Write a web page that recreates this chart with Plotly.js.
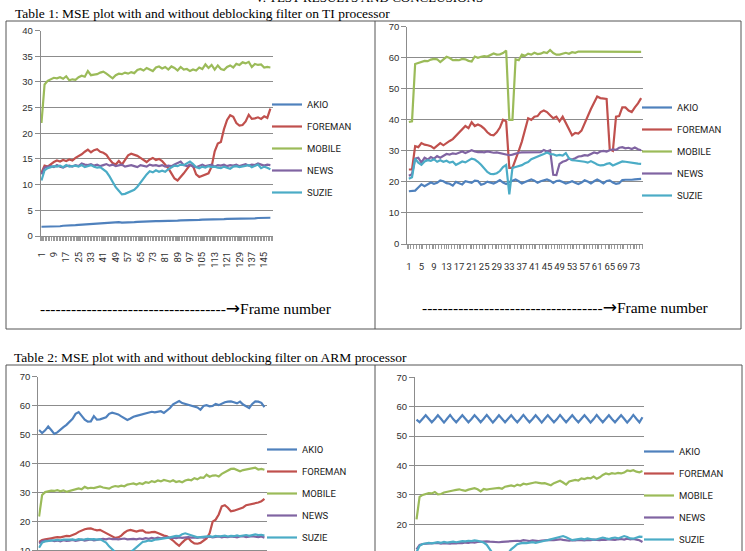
<!DOCTYPE html>
<html><head><meta charset="utf-8">
<script src="https://cdn.plot.ly/plotly-3.0.1.min.js"></script>
<style>html,body{margin:0;padding:0;overflow:hidden;background:#fff}#chart{width:745px;height:640px}</style>
</head><body><div id="chart"></div>
<script>
// ---------- DATA ----------
const seriesNames = ['AKIO', 'FOREMAN', 'MOBILE', 'NEWS', 'SUZIE'];
const seriesColors = ['#4F81BD', '#C0504D', '#9BBB59', '#8064A2', '#4BACC6'];

// frame numbers (category axis)
const framesLong = [1,3,5,7,9,11,13,15,17,19,21,23,25,27,29,31,33,35,37,39,41,43,45,47,49,51,53,55,57,59,61,63,65,67,69,71,73,75,77,79,81,83,85,87,89,91,93,95,97,99,101,103,105,107,109,111,113,115,117,119,121,123,125,127,129,131,133,135,137,139,141,143,145,147,149];
const framesShort = [1,2,3,4,5,6,7,8,9,10,11,12,13,14,15,16,17,18,19,20,21,22,23,24,25,26,27,28,29,30,31,32,33,34,35,36,37,38,39,40,41,42,43,44,45,46,47,48,49,50,51,52,53,54,55,56,57,58,59,60,61,62,63,64,65,66,67,68,69,70,71,72,73,74,75];
const tickLabelsLong = [1,9,17,25,33,41,49,57,65,73,81,89,97,105,113,121,129,137,145];
const tickLabelsShort = [1,5,9,13,17,21,25,29,33,37,41,45,49,53,57,61,65,69,73];
const yTicksTI1 = [0,5,10,15,20,25,30,35,40];
const yTicks70 = [0,10,20,30,40,50,60,70];

// Table 1, left: TI processor (150 frames)
const ti1Akio = [1.8,1.8,1.8,1.8,1.85,1.9,1.9,2.0,2.0,2.05,2.1,2.1,2.15,2.2,2.2,2.3,2.35,2.4,2.4,2.45,2.5,2.5,2.5,2.55,2.6,2.7,2.6,2.6,2.65,2.7,2.7,2.75,2.8,2.8,2.8,2.85,2.9,2.9,2.9,2.9,2.95,2.95,3.0,3.0,3.0,3.05,3.05,3.1,3.1,3.1,3.15,3.15,3.2,3.2,3.2,3.2,3.25,3.3,3.3,3.3,3.35,3.35,3.35,3.4,3.4,3.4,3.4,3.45,3.45,3.45,3.5,3.5,3.5,3.55,3.55];
const ti1Foreman = [12.3,13.7,13.5,14.0,14.4,14.7,14.5,14.8,14.6,14.9,14.7,15.2,15.5,15.9,16.4,16.8,16.3,16.7,16.9,16.4,16.2,15.8,14.9,14.2,13.9,14.6,13.9,14.8,15.7,16.0,15.8,15.6,15.2,14.8,14.4,14.9,15.2,14.8,15.0,14.6,13.9,13.2,12.2,11.2,10.8,11.4,12.2,13.0,13.8,13.6,12.0,11.5,11.7,11.9,12.2,13.5,16.5,18.0,18.3,20.8,22.6,23.5,23.2,22.0,21.5,21.6,22.3,23.6,22.8,22.9,23.1,22.8,23.3,23.0,24.8];
const ti1Mobile = [22,29.5,30.2,30.5,30.8,30.7,30.9,30.6,31.1,30.3,30.5,30.4,30.9,31.2,31.0,32.1,31.3,31.4,31.5,31.8,32.0,31.6,31.2,30.7,31.3,31.6,31.5,31.8,31.6,31.9,31.7,32.3,32.5,32.2,32.7,32.4,32.1,32.8,33.0,32.6,32.9,32.4,33.0,32.7,32.2,32.9,32.4,32.5,32.1,32.4,32.2,32.8,32.5,33.4,32.7,33.3,32.4,33.2,32.5,32.3,32.9,33.2,32.8,33.5,33.3,33.8,33.6,33.9,32.9,33.5,33.3,33.4,32.8,32.9,32.8];
const ti1News = [12.0,13.3,13.5,13.6,13.4,13.8,13.5,13.3,13.6,13.7,13.5,13.8,13.6,14.1,13.9,13.8,14.0,13.7,13.9,13.6,13.8,14.0,13.7,13.9,13.6,13.8,13.9,13.5,13.7,13.8,13.6,13.4,13.8,13.6,13.5,13.9,13.7,13.8,13.6,13.8,13.5,13.7,13.6,13.9,14.2,14.5,13.8,13.6,13.9,13.5,13.4,13.7,13.9,13.6,13.8,13.9,13.5,13.8,13.7,13.9,13.6,13.8,13.7,13.9,13.6,13.8,14.0,13.7,13.9,13.8,14.1,13.9,13.7,13.9,13.8];
const ti1Suzie = [10.8,12.8,13.2,13.4,13.6,13.5,13.7,13.4,13.8,13.5,13.6,13.7,13.5,13.8,13.4,13.6,13.8,13.5,13.3,13.4,12.9,12.5,11.6,10.5,9.5,8.8,8.1,8.2,8.5,8.7,9.0,9.6,10.4,11.3,12.0,12.6,12.4,12.8,12.5,12.7,12.5,13.0,13.4,13.7,13.6,13.9,13.8,14.1,14.5,14.0,13.4,13.2,13.5,13.3,13.6,13.4,13.5,13.3,13.2,13.5,13.3,13.1,13.5,13.6,13.4,13.5,13.7,13.8,13.4,13.6,13.9,13.2,13.5,13.3,13.0];

// Table 1, right: TI processor (75 frames)
const ti2Akio = [17,17,17.2,18.2,19.2,18.6,19.2,19.8,19.4,19.7,20.5,20.2,19.6,19.4,18.8,20,19.6,19.2,20.2,20,19.7,20.4,20.3,19.1,19.4,20.1,19.8,19.5,20,20.6,19.8,19.3,20,20.3,20.8,20.2,19.5,20,20.5,20.8,20.4,19.7,20.2,20.6,20.8,20.4,19.7,20.3,20.4,20,19.5,19.8,20.2,19.7,19.3,19.8,20.5,20.1,19.5,20.2,20.8,20.2,19.5,20.3,20.5,19.8,19.4,19.6,20.6,20.7,20.6,20.7,20.8,20.8,21];
const ti2Foreman = [24,24,31.5,31.2,32.5,32,31.8,31.5,30.8,31.8,32.5,31.8,32.6,33.2,33.8,34.8,36,37,38,37.3,39.2,38,38.5,38,37.2,36,35.2,35,36,37.5,40,39.5,24.5,24.5,27,30,33,36.5,40.5,40,41,41.2,42.5,43,42.5,41.5,40.5,41,39.5,41,39,36.5,35,35.8,35.6,36.5,39,41.5,43.5,45.5,47.5,47,46.8,46.7,30.5,30,41,41.2,44,44,43,42.5,44,45.3,47];
const ti2Mobile = [39.3,39.5,58.0,58.3,58.6,59.0,58.9,59.4,59.6,59.5,58.6,59.6,60.3,59.9,59.2,59.3,59.2,59.6,59.5,59.0,58.8,60.4,60.0,60.3,60.5,60.4,60.8,61.4,61.0,61.1,61.5,62.3,40.0,40.0,59.5,59.2,61.0,60.6,61.3,61.0,61.6,61.2,61.3,61.8,61.5,62.5,61.5,61.0,61.0,61.3,61.6,61.3,61.8,61.6,62.0,62.0,61.9,62.0,62.0,62.0,62.0,61.9,62.0,62.0,62.0,62.0,62.0,61.9,62.0,62.0,62.0,62.0,61.9,62.0,61.9];
const ti2News = [22,22.5,27.5,27.8,26.2,27.8,27.2,28,27.5,28.3,27.8,28.5,29,28.8,29.2,29,29.5,29.8,29.3,29.8,30.2,29.8,29.6,29.7,29.5,29.8,29.6,29.4,29.5,29.3,29,28.8,28.6,28.8,29.2,29.4,29.5,29.5,29.6,29.5,29.6,29.7,29.6,30.3,29.8,30.2,22.3,22.2,25.8,26.5,26.8,27.5,27.2,27.6,28.2,28.3,28.6,28.5,29,29.5,29.2,29.8,30,29.8,30.2,30.5,30.3,31,31.2,30.8,31,30.6,31.1,30.5,30.2];
const ti2Suzie = [21,21.5,27.5,26.2,25.5,26.6,27,26.8,27.3,26.5,27,26.5,26.8,26.2,26.5,25.5,26,26.6,26.3,26.8,27.5,27.2,26.5,25.5,24.5,23.2,22.6,22.5,22.8,23.5,24.8,25.5,16,24.5,24.8,25,25.4,26,26.4,27.3,27.8,28.2,28.6,29,29.5,29,28.9,28.5,28.7,28.5,29.3,27.6,27,26.9,26.8,26.7,26.5,26.2,26.7,26.2,25.6,25.3,25.4,25.8,26,25.3,25.8,26.2,26.6,26.5,26.3,26.1,26,25.9,25.8];

// Table 2, left: ARM processor (150 frames)
const arm1Akio = [51.6,50.6,51.5,52.8,51.6,50.3,50.8,51.8,52.6,53.4,54.3,55.5,57.2,57.8,56.5,55.2,54.5,54.6,56.4,55.2,55.3,55.6,56,57.2,57.6,57.3,57.0,56.3,55.6,55.1,55.6,56.2,56.5,56.8,57.1,57.4,57.6,57.9,57.7,57.9,58.1,57.5,58.2,59.2,60.5,61.2,61.6,60.9,60.6,60.4,60.1,59.8,59.4,58.6,59.9,60.2,59.8,59.9,60.6,60.2,60.8,61.2,61.4,61.5,61.2,60.8,61.4,60.4,59.8,59.2,60.6,61.5,61.4,61.0,59.5];
const arm1Foreman = [13.0,13.7,13.9,14.2,14.3,14.5,14.7,14.6,14.9,15.1,15.0,15.4,15.8,16.5,17.0,17.4,17.6,17.7,17.3,17.0,17.2,16.6,16.0,15.4,14.9,14.4,14.6,15.2,16.2,16.9,17.2,16.9,16.6,16.9,17.0,16.3,16.2,16.4,16.5,16.1,15.6,15.2,15.0,14.3,13.5,12.5,11.7,12.8,13.8,14.4,13.2,12.5,12.4,12.7,13.5,14.2,16.0,20.0,20.7,22.5,25.3,25.7,24.8,23.6,23.8,24.1,24.5,24.9,25.7,25.9,26.2,26.4,26.6,27.0,27.9];
const arm1Mobile = [21.8,29.2,30.2,30.5,30.7,30.6,30.9,30.5,30.8,30.3,30.6,30.9,31.3,31.5,31.2,32.0,31.5,31.7,31.6,31.9,32.2,31.8,31.5,31.4,32.0,32.3,32.1,32.4,32.2,32.8,33.0,33.2,32.8,33.3,33.0,33.6,33.4,34.0,33.7,34.2,33.9,34.4,34.1,33.8,34.3,33.7,34.0,33.6,34.2,34.5,34.3,35.0,34.6,35.3,35.1,36.2,35.5,35.9,36.0,35.6,36.5,37.0,37.6,38.2,38.3,37.9,37.4,37.8,38.0,38.2,38.3,38.6,38.0,38.2,37.9];
const arm1News = [12.5,13.3,13.5,13.4,13.6,13.3,13.5,13.2,13.6,13.4,13.5,13.7,13.4,13.6,13.8,13.5,13.7,13.9,13.6,13.8,14.0,14.1,13.9,14.2,14.0,14.1,13.9,14.0,14.2,13.9,14.0,14.1,13.9,14.2,14.0,14.3,14.1,14.4,14.2,14.5,14.3,14.4,14.6,14.4,14.5,14.3,14.6,14.4,14.5,14.7,14.5,14.6,14.4,14.7,14.5,14.6,14.8,14.6,14.7,14.9,14.6,14.8,14.7,14.9,14.8,14.6,14.9,15.0,14.7,14.9,15.0,14.8,14.7,14.9,14.5];
const arm1Suzie = [11.0,12.8,13.2,13.4,13.5,13.6,13.7,13.6,13.8,13.7,13.8,13.9,13.7,14.0,13.8,13.9,14.1,13.9,14.0,13.8,14.0,13.4,12.8,11.5,10.4,9.5,8.8,8.5,8.6,9.0,9.5,10.3,11.2,12.2,13.0,13.2,13.5,13.4,13.8,13.9,14.0,14.3,14.4,14.6,14.8,15.1,15.0,15.7,16.0,15.6,15.2,14.8,14.6,14.7,14.8,14.9,15.0,14.8,15.1,14.9,15.0,15.2,14.9,15.1,15.0,15.3,15.0,15.2,15.4,15.1,15.3,15.6,15.4,15.5,15.2];

// Table 2, right: ARM processor (75 frames); FOREMAN is listed in the legend but no line is visible
const arm2Akio = [55.6,54.7,55.9,57.1,55.9,54.7,55.8,57.1,55.9,54.6,55.9,57.2,55.8,54.7,55.9,57.1,55.9,54.7,55.8,57.1,56.0,54.7,55.9,57.2,55.9,54.6,55.8,57.1,55.9,54.7,55.9,57.1,55.8,54.7,55.9,57.2,55.9,54.7,55.8,57.1,55.9,54.6,55.9,57.1,55.9,54.7,55.8,57.2,55.9,54.7,55.9,57.1,55.8,54.7,55.9,57.1,55.9,54.6,55.8,57.2,55.9,54.7,55.9,57.1,55.8,54.7,55.9,57.1,55.9,54.6,55.8,57.2,55.9,54.7,56.4];
const arm2Foreman = [null,null,null,null,null,null,null,null,null,null,null,null,null,null,null,null,null,null,null,null,null,null,null,null,null,null,null,null,null,null,null,null,null,null,null,null,null,null,null,null,null,null,null,null,null,null,null,null,null,null,null,null,null,null,null,null,null,null,null,null,null,null,null,null,null,null,null,null,null,null,null,null,null,null,null];
const arm2Mobile = [21.7,29.3,30.0,30.3,30.6,30.5,31.0,30.2,30.3,30.8,31.1,31.3,31.5,31.7,31.9,31.6,31.4,31.8,32.1,32.3,31.9,31.2,32.0,31.8,32.0,32.1,32.2,32.4,32.1,32.8,33.0,33.2,32.9,33.5,33.2,33.8,33.6,33.9,34.0,34.3,34.1,33.9,34.0,33.6,33.3,34.0,34.4,34.8,34.2,33.5,34.6,34.8,35.1,34.9,35.6,35.4,35.8,35.6,36.2,35.5,36.0,36.8,37.3,37.0,37.4,37.2,37.5,37.3,37.6,38.3,38.1,38.4,37.9,37.7,38.1];
const arm2News = [11.5,13.0,13.3,13.4,13.5,13.6,13.5,13.7,13.4,13.6,13.5,13.4,13.6,13.5,13.7,13.6,13.8,13.7,13.9,13.8,14.0,14.1,14.0,14.2,14.1,14.0,14.1,13.9,14.0,14.1,14.0,14.2,14.3,14.4,14.3,14.6,14.5,14.3,14.5,14.4,14.3,14.5,14.6,14.5,14.7,14.6,14.8,14.9,14.7,14.5,14.4,14.6,14.5,14.7,14.6,14.5,14.7,14.6,14.8,14.7,14.6,14.8,14.7,14.9,14.8,14.7,14.9,15.0,14.8,15.1,14.9,15.0,14.8,14.6,14.0];
const arm2Suzie = [10.5,12.7,13.3,13.6,13.7,13.5,13.8,13.9,13.7,14.0,13.8,14.0,14.1,13.9,14.2,14.3,14.2,14.4,14.3,14.5,14.4,14.2,13.8,13.0,11.5,10.0,9.0,8.5,8.6,9.2,10.2,11.5,12.3,13.2,13.5,13.7,13.6,13.8,13.9,13.7,14.0,14.3,14.4,14.6,14.9,15.1,15.4,15.8,16.0,15.6,15.0,14.6,14.8,15.0,15.1,14.9,15.2,15.0,14.8,14.9,15.1,15.5,15.2,15.0,15.3,15.5,15.2,15.6,16.0,15.7,15.2,15.1,15.4,15.8,15.7];

// ---------- LAYOUT HELPERS ----------
const W = 745, H = 640;
const PX = x => x / W;
const PY = y => 1 - y / H;
const LEGFONT = 'Roboto, "Liberation Sans", sans-serif';
const SANS = '"Liberation Sans", Arial, sans-serif';
const SERIF = '"Liberation Serif", "Times New Roman", serif';
const GRID = '#8c8c8c';

const charts = [
  {id: '',  frames: framesLong,  vals: [ti1Akio, ti1Foreman, ti1Mobile, ti1News, ti1Suzie],
   x: [40.7, 272.7], y: [236, 30.5], yr: [0, 40], yt: yTicksTI1, xr: [0.5, 150.5], xt: tickLabelsLong, angle: -90, stand: 7,
   leg: {x: 267, y: 90}},
  {id: '2', frames: framesShort, vals: [ti2Akio, ti2Foreman, ti2Mobile, ti2News, ti2Suzie],
   x: [407.3, 642.7], y: [244, 26.7], yr: [0, 70], yt: yTicks70, xr: [0.5, 75.5], xt: tickLabelsShort, angle: 0, stand: 10,
   leg: {x: 637, y: 93}},
  {id: '3', frames: framesLong,  vals: [arm1Akio, arm1Foreman, arm1Mobile, arm1News, arm1Suzie],
   x: [38.3, 266.7], y: [579.7, 376.7], yr: [0, 70], yt: yTicks70, xr: [0.5, 150.5], xt: tickLabelsLong, angle: -90, stand: 7,
   leg: {x: 262, y: 435}},
  {id: '4', frames: framesShort, vals: [arm2Akio, arm2Foreman, arm2Mobile, arm2News, arm2Suzie],
   x: [415, 644], y: [583.1, 377.3], yr: [0, 70], yt: yTicks70, xr: [0.5, 75.5], xt: tickLabelsShort, angle: 0, stand: 10,
   leg: {x: 639, y: 437}}
];

const traces = [];
const layout = {
  width: W, height: H,
  margin: {l: 0, r: 0, t: 0, b: 0},
  paper_bgcolor: '#fff', plot_bgcolor: '#fff',
  showlegend: true,
  hovermode: false,
  annotations: [], shapes: []
};

charts.forEach((c, ci) => {
  const legName = 'legend' + c.id;
  c.vals.forEach((v, si) => {
    traces.push({
      type: 'scatter', mode: 'lines',
      x: c.frames.slice(0, v.length), y: v,
      name: seriesNames[si],
      line: {color: seriesColors[si], width: 2.2},
      xaxis: 'x' + c.id, yaxis: 'y' + c.id,
      legend: legName,
      legendgroup: 'g' + ci + '_' + si,
      showlegend: true
    });
  });
  layout['xaxis' + c.id] = {
    domain: [PX(c.x[0]), PX(c.x[1])], anchor: 'y' + c.id,
    range: c.xr, tickmode: 'array', tickvals: c.xt, ticktext: c.xt.map(String),
    tickangle: c.angle, ticks: 'outside', ticklen: 4, tickcolor: '#9a9a9a',
    minor: {dtick: 1, tick0: 0.5, ticks: 'outside', ticklen: 4, tickcolor: '#9a9a9a', showgrid: false},
    ticklabelstandoff: c.stand,
    showline: true, linecolor: '#8c8c8c', linewidth: 1,
    showgrid: false, zeroline: false, fixedrange: true,
    tickfont: {family: LEGFONT, size: 9.5, color: '#303030'}
  };
  layout['yaxis' + c.id] = {
    domain: [PY(c.y[0]), PY(c.y[1])], anchor: 'x' + c.id,
    range: c.yr, tickmode: 'array', tickvals: c.yt, ticktext: c.yt.map(String),
    ticks: 'outside', ticklen: 5, tickcolor: GRID,
    showline: true, linecolor: GRID, linewidth: 1,
    showgrid: true, gridcolor: GRID, gridwidth: 1, zeroline: false, fixedrange: true,
    tickfont: {family: SANS, size: 9.5, color: '#303030'}
  };
  layout[legName] = {
    x: PX(c.leg.x), xanchor: 'left', xref: 'paper',
    y: PY(c.leg.y), yanchor: 'top', yref: 'paper',
    bgcolor: 'rgba(0,0,0,0)', borderwidth: 0,
    traceorder: 'grouped', tracegroupgap: 3,
    font: {family: LEGFONT, size: 9.5, color: '#222'}
  };
});

// text
const ann = (text, x, y, size, xanchor, yanchor) => ({
  text, x: PX(x), y: PY(y), xref: 'paper', yref: 'paper',
  xanchor, yanchor, showarrow: false,
  font: {family: SERIF, size, color: '#000'}
});
const ARROW = '<span style="font-family:\'DejaVu Sans\';font-size:17px">\u2192</span>';
layout.annotations.push(ann('V. TEST RESULTS AND CONCLUSIONS', 369, 7, 13, 'center', 'bottom'));
layout.annotations.push(ann('Table 1: MSE plot with and without deblocking filter on TI processor', 13, 13.5, 13.5, 'left', 'middle'));
layout.annotations.push(ann('Table 2: MSE plot with and without deblocking filter on ARM processor', 12, 357.5, 13.5, 'left', 'middle'));
layout.annotations.push(ann('-'.repeat(36) + ARROW + 'Frame number', 38, 307.5, 15.5, 'left', 'middle'));
layout.annotations.push(ann('-'.repeat(35) + ARROW + 'Frame number', 420, 306.5, 15.5, 'left', 'middle'));

// table borders
const line = (x0, y0, x1, y1) => ({type: 'line', xref: 'paper', yref: 'paper',
  x0: PX(x0), y0: PY(y0), x1: PX(x1), y1: PY(y1), line: {color: '#555', width: 1}});
layout.shapes.push(
  line(6, 21, 741, 21), line(6, 329, 741, 329), line(6, 21, 6, 329), line(741, 21, 741, 329), line(375, 21, 375, 329),
  line(6, 365, 742, 365), line(6, 365, 6, H), line(742, 365, 742, H), line(375, 365, 375, H)
);

Plotly.newPlot('chart', traces, layout, {staticPlot: true, displayModeBar: false});
</script></body></html>
